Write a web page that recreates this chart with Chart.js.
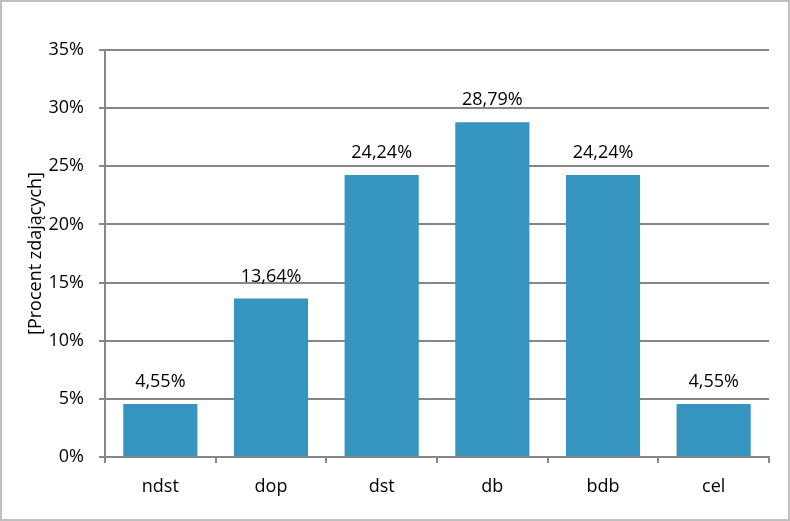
<!DOCTYPE html>
<html>
<head>
<meta charset="utf-8">
<script src="https://cdn.jsdelivr.net/npm/chart.js@4"></script>
<style>
  body { margin: 0; background: #fff; }
  #wrap { position: relative; width: 790px; height: 521px; }
  #frame { position: absolute; left: 0; top: 0; width: 790px; height: 521px; box-sizing: border-box; border: 2px solid #bfbfbf; pointer-events: none; }
</style>
</head>
<body>
<div id="wrap">
  <canvas id="myChart" width="790" height="521"></canvas>
  <div id="frame"></div>
</div>
<script>
// grades and share of students (fraction)
const categories = ['ndst', 'dop', 'dst', 'db', 'bdb', 'cel'];
const values = [0.0455, 0.1364, 0.2424, 0.2879, 0.2424, 0.0455];
const axisTitle = '[Procent zdających]';

const fontFamily = '"Open Sans", "DejaVu Sans", sans-serif';
const fontSize = 18;

// writes the value above every bar, Polish decimal comma
const valueLabels = {
    id: 'valueLabels',
    afterDatasetsDraw(chart) {
        const ctx = chart.ctx;
        const meta = chart.getDatasetMeta(0);
        ctx.save();
        ctx.font = fontSize + 'px ' + fontFamily;
        ctx.fillStyle = '#000';
        ctx.textAlign = 'center';
        ctx.textBaseline = 'middle';
        meta.data.forEach((bar, i) => {
            const txt = (values[i] * 100).toFixed(2).replace('.', ',') + '%';
            ctx.fillText(txt, bar.x, bar.y - 22);
        });
        ctx.restore();
    }
};

const ctx = document.getElementById('myChart').getContext('2d');
const myChart = new Chart(ctx, {
    type: 'bar',
    data: {
        labels: categories,
        datasets: [{
            data: values,
            backgroundColor: '#3595be',
            categoryPercentage: 1,
            barPercentage: 0.67
        }]
    },
    options: {
        responsive: false,
        animation: false,
        layout: { padding: { top: 50, right: 21, bottom: 0, left: 0 } },
        plugins: { legend: { display: false }, tooltip: { enabled: false } },
        scales: {
            y: {
                min: 0,
                max: 0.35,
                afterFit: (scale) => { scale.width = 105; },
                ticks: {
                    stepSize: 0.05,
                    padding: 15,
                    color: '#000',
                    font: { family: fontFamily, size: fontSize },
                    callback: (v) => Math.round(v * 100) + '%'
                },
                grid: { color: '#868686', lineWidth: 2, tickLength: 6 },
                border: { color: '#868686', width: 2 },
                title: {
                    display: true,
                    text: axisTitle,
                    color: '#000',
                    font: { family: fontFamily, size: fontSize },
                    padding: { top: 25, bottom: 0 }
                }
            },
            x: {
                afterFit: (scale) => { scale.height = 64; },
                ticks: {
                    padding: 13,
                    color: '#000',
                    font: { family: fontFamily, size: fontSize }
                },
                grid: { offset: true, drawOnChartArea: false, color: '#868686', lineWidth: 2, tickLength: 6 },
                border: { color: '#868686', width: 2 }
            }
        }
    },
    plugins: [valueLabels]
});
</script>
</body>
</html>
